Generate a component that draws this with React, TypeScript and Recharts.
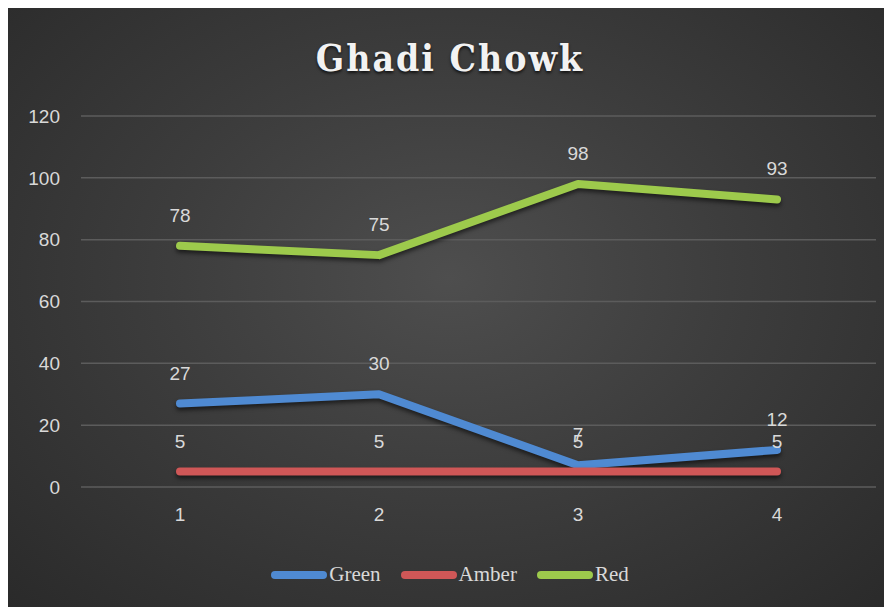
import React from 'react';
import { LineChart, Line, XAxis, YAxis, CartesianGrid, LabelList } from 'recharts';

const categories = ['1', '2', '3', '4'];
const greenValues = [27, 30, 7, 12];
const amberValues = [5, 5, 5, 5];
const redValues = [78, 75, 98, 93];
const yTicks = [0, 20, 40, 60, 80, 100, 120];

const seriesDefs = [
  { key: 'Green', color: '#4f8ad2' },
  { key: 'Amber', color: '#cf5757' },
  { key: 'Red', color: '#9dca4c' },
];

const data = categories.map((c, i) => ({
  cat: c,
  Green: greenValues[i],
  Amber: amberValues[i],
  Red: redValues[i],
}));

const W = 884;
const H = 599;

export default function App() {
  return (
    <div
      style={{
        position: 'relative',
        width: W,
        height: H,
        background: 'radial-gradient(ellipse at 50% 45%, #4e4e4e 0%, #3d3d3d 45%, #2a2a2a 100%)',
      }}
    >
      <style>{`.recharts-line-curve { filter: drop-shadow(0px 3px 2px rgba(0,0,0,0.55)); }`}</style>
      <div
        style={{
          position: 'absolute',
          top: 26,
          left: 0,
          width: W,
          textAlign: 'center',
          fontFamily: '"DejaVu Serif Condensed", "DejaVu Serif", serif',
          fontStretch: 'condensed',
          fontWeight: 'bold',
          fontSize: 37,
          letterSpacing: 2,
          color: '#f2f2f2',
          textShadow: '0px 2px 3px rgba(0,0,0,0.7)',
          lineHeight: '48px',
          zIndex: 2,
        }}
      >
        Ghadi Chowk
      </div>
      <div
        style={{
          position: 'absolute',
          top: 554,
          left: 0,
          width: W,
          display: 'flex',
          justifyContent: 'center',
          alignItems: 'center',
          gap: 20,
          zIndex: 2,
        }}
      >
        {seriesDefs.map((s) => (
          <div key={s.key} style={{ display: 'flex', alignItems: 'center' }}>
            <div style={{ width: 56, height: 8, borderRadius: 4, background: s.color, marginRight: 2 }} />
            <span style={{ fontFamily: '"Liberation Serif", serif', fontSize: 21, color: '#d9d9d9' }}>{s.key}</span>
          </div>
        ))}
      </div>
      <LineChart width={W} height={H} data={data} margin={{ top: 108, right: 16, bottom: 90, left: 0 }}>
        <CartesianGrid vertical={false} stroke="#5c5c5c" strokeWidth={1.5} />
        <XAxis
          dataKey="cat"
          height={30}
          axisLine={false}
          tickLine={false}
          tickSize={0}
          tickMargin={21}
          padding={{ left: 99, right: 99 }}
          tick={{ fill: '#d9d9d9', fontSize: 19, fontFamily: '"Liberation Sans", sans-serif' }}
        />
        <YAxis
          width={73}
          domain={[0, 120]}
          ticks={yTicks}
          axisLine={false}
          tickLine={false}
          tickSize={0}
          tickMargin={21}
          tick={{ fill: '#d9d9d9', fontSize: 19, fontFamily: '"Liberation Sans", sans-serif' }}
        />
        {seriesDefs.map((s) => (
          <Line
            key={s.key}
            dataKey={s.key}
            stroke={s.color}
            strokeWidth={8}
            strokeLinecap="round"
            strokeLinejoin="round"
            dot={false}
            activeDot={false}
            isAnimationActive={false}
          >
            <LabelList
              dataKey={s.key}
              position="top"
              offset={24}
              style={{ fill: '#d9d9d9', fontSize: 19, fontFamily: '"Liberation Sans", sans-serif' }}
            />
          </Line>
        ))}
      </LineChart>
    </div>
  );
}
